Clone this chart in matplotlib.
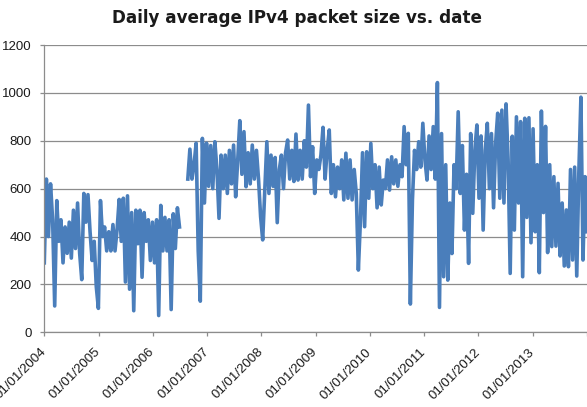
import matplotlib
matplotlib.use("Agg")
import matplotlib.pyplot as plt
import numpy as np
import pandas as pd

# ---- data (one sample every 14 days from 2004-01-01) ----
title = "Daily average IPv4 packet size vs. date"
start_date = "2004-01-01"
sample_days = 14

vals_2004_2006 = [290, 640, 400, 620, 470, 110, 550, 380, 470, 290,
                  440, 330, 460, 310, 510, 350, 540, 330, 220, 580,
                  460, 575, 420, 300, 380, 190, 100, 550, 400, 440,
                  340, 420, 340, 450, 340, 430, 555, 380, 560, 210,
                  570, 180, 500, 90, 510, 370, 510, 230, 500, 380,
                  470, 300, 460, 290, 470, 70, 530, 340, 480, 340,
                  470, 95, 495, 350, 520, 440]
gap_2006 = [None, None, None]
vals_2006_2009 = [640, 765, 640, 700, 790, 340, 130, 810, 540, 790,
                  610, 780, 600, 796, 680, 476, 740, 600, 740, 580,
                  760, 620, 782, 566, 720, 884, 660, 838, 608, 750,
                  620, 782, 640, 760, 640, 483, 386, 590, 796, 580,
                  740, 610, 730, 458, 680, 740, 600, 750, 803, 640,
                  760, 630, 828, 636, 760, 640, 800, 690, 949, 650]
vals_2009_2011 = [775, 580, 720, 680, 740, 856, 640, 760, 845, 580,
                  700, 566, 690, 600, 720, 553, 748, 560, 720, 553,
                  680, 580, 260, 469, 750, 441, 754, 560, 789, 600,
                  700, 520, 690, 532, 636, 600, 720, 594, 733, 620,
                  720, 610, 700, 650, 859, 700, 831, 118, 553, 760,
                  680, 796, 690, 873, 720, 636, 820, 680, 859, 640]
vals_2011_2013 = [1043, 104, 830, 232, 700, 218, 540, 329, 700, 600,
                  921, 580, 780, 427, 660, 288, 830, 497, 760, 866,
                  560, 820, 427, 760, 873, 600, 830, 520, 790, 915,
                  560, 928, 540, 954, 722, 246, 819, 427, 900, 540,
                  880, 232, 894, 480, 896, 374, 850, 420, 700, 249,
                  924, 500, 860, 333, 700, 358, 650, 360, 622, 319,
                  540, 277, 511, 274, 680, 302, 690, 235, 666, 982,
                  302, 650, 420]

y_ticks = [0, 200, 400, 600, 800, 1000, 1200]
x_tick_years = list(range(2004, 2015))

values = np.array([np.nan if v is None else v for v in
                   vals_2004_2006 + gap_2006 + vals_2006_2009 + vals_2009_2011 + vals_2011_2013],
                  dtype=float)
dates = pd.date_range(start_date, periods=len(values), freq=f"{sample_days}D")

# ---- figure ----
W, H = 587, 407
fig = plt.figure(figsize=(W / 100, H / 100), dpi=100)
ax = fig.add_axes([44.3 / W, (H - 332.3) / H, (W - 44.3) / W, (332.3 - 45) / H])

ax.plot(dates, values, color="#4a7ebb", lw=2.6, solid_joinstyle="round")

grid_c = "#8c8c8c"
ax.set_ylim(0, 1200)
ax.set_yticks(y_ticks)
ax.yaxis.grid(True, color=grid_c, lw=0.9)
ax.set_axisbelow(True)
ax.set_xlim(pd.Timestamp("2004-01-01"), pd.Timestamp("2014-01-01"))
xt = [pd.Timestamp(f"{y}-01-01") for y in x_tick_years]
ax.set_xticks(xt)
ax.set_xticklabels([f"01/01/{y}" if y < 2014 else "" for y in x_tick_years],
                   rotation=45, ha="right", va="center", rotation_mode="anchor")

for s in ["top", "right"]:
    ax.spines[s].set_visible(False)
for s in ["left", "bottom"]:
    ax.spines[s].set_color(grid_c)
    ax.spines[s].set_linewidth(0.9)

ax.tick_params(axis="both", direction="out", length=3, width=0.9, color=grid_c,
               labelsize=9.5, labelcolor="#1a1a1a")
ax.tick_params(axis="y", pad=6)
ax.tick_params(axis="x", pad=10)
for lab in ax.get_xticklabels() + ax.get_yticklabels():
    lab.set_family("Liberation Sans")

fig.text(297 / W, 1 - 18 / H, title, ha="center", va="center",
         fontsize=12.1, fontweight="bold", family="DejaVu Sans", color="#1a1a1a")

fig.savefig("out.png", dpi=100)
